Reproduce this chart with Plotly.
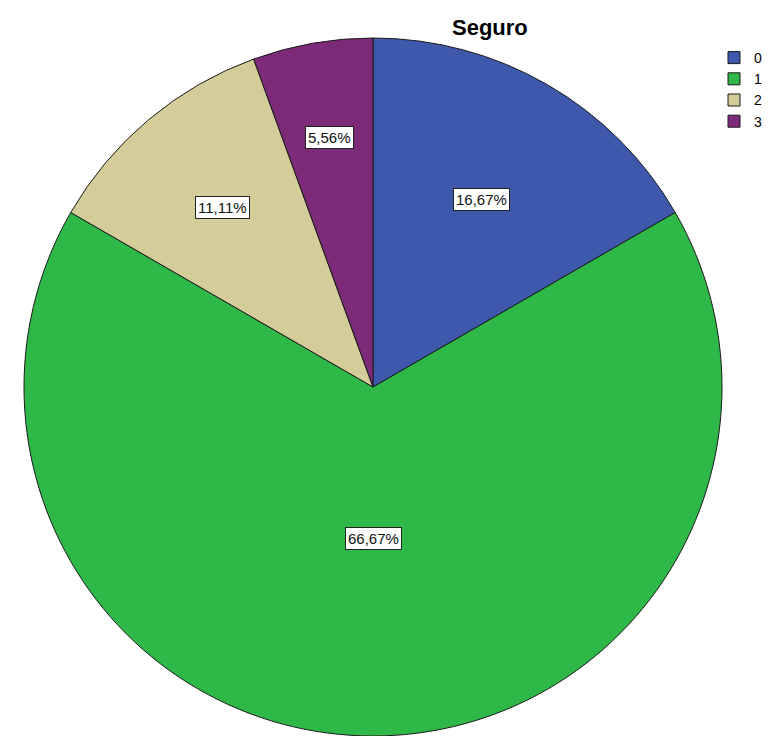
import math
import plotly.graph_objects as go

# Data
categories = ["0", "1", "2", "3"]
counts = [3, 12, 2, 1]
title_text = "Seguro"

# Styles
colors = ["#3E58AC", "#2EB848", "#D4CC99", "#7D2A78"]
label_radius_frac = [0.62, 0.435, 0.67, 0.725]

W, H = 770, 736
dom_x = [22 / W, 724 / W]
dom_y = [0.0, 1 - 38 / H]

total = sum(counts)
pcts = [c / total * 100 for c in counts]
texts = [f"{p:.2f}".replace(".", ",") + "%" for p in pcts]

fig = go.Figure(go.Pie(
    labels=categories,
    values=counts,
    sort=False,
    direction="clockwise",
    rotation=0,
    marker=dict(colors=colors, line=dict(color="#1a1a1a", width=1)),
    textinfo="none",
    hoverinfo="label+percent",
    domain=dict(x=dom_x, y=dom_y),
))

# Pie geometry in pixels (margins are zero)
dw = (dom_x[1] - dom_x[0]) * W
dh = (dom_y[1] - dom_y[0]) * H
r = min(dw, dh) / 2
cx = (dom_x[0] + dom_x[1]) / 2 * W
cy_from_top = H - (dom_y[0] + dom_y[1]) / 2 * H

cum = 0.0
annotations = []
for i, c in enumerate(counts):
    mid = (cum + c / 2) / total * 2 * math.pi
    cum += c
    rr = r * label_radius_frac[i]
    px = cx + rr * math.sin(mid)
    py = cy_from_top - rr * math.cos(mid)
    annotations.append(dict(
        x=px / W, y=1 - py / H, xref="paper", yref="paper",
        xanchor="center", yanchor="middle",
        text=texts[i], showarrow=False,
        font=dict(family="Liberation Sans, Arial", size=15, color="#111"),
        bgcolor="white", bordercolor="#222", borderwidth=1, borderpad=2,
    ))

annotations.append(dict(
    x=490 / W, y=1 - 27 / H, xref="paper", yref="paper",
    text="<b>" + title_text + "</b>", showarrow=False,
    font=dict(family="Liberation Sans, Arial", size=22, color="#000"),
    xanchor="center", yanchor="middle",
))

fig.update_layout(
    width=W, height=H,
    margin=dict(l=0, r=0, t=0, b=0, autoexpand=False),
    paper_bgcolor="white",
    plot_bgcolor="white",
    annotations=annotations,
    showlegend=True,
    legend=dict(
        x=714 / W, y=1 - 42 / H, xanchor="left", yanchor="top",
        font=dict(family="Liberation Sans, Arial", size=14, color="#000"),
        bgcolor="rgba(0,0,0,0)",
        itemwidth=30,
        tracegroupgap=0,
    ),
)

fig.write_html("out.html")
